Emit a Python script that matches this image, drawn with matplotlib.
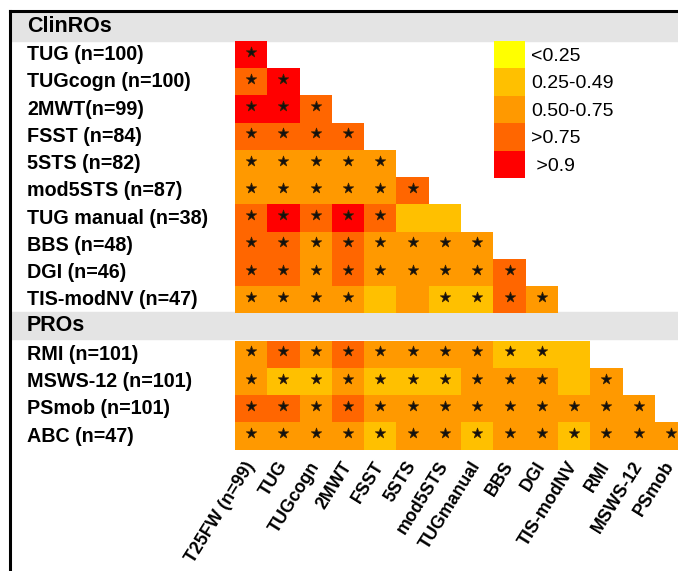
import numpy as np
import matplotlib
matplotlib.use("Agg")
from matplotlib import pyplot as plt
from matplotlib.colors import ListedColormap, BoundaryNorm
from matplotlib.patches import Patch

plt.rcParams["font.family"] = ["Liberation Sans", "DejaVu Sans"]

columns = ["T25FW (n=99)", "TUG", "TUGcogn", "2MWT", "FSST", "5STS", "mod5STS",
           "TUGmanual", "BBS", "DGI", "TIS-modNV", "RMI", "MSWS-12", "PSmob"]

clinro_labels = ["TUG (n=100)", "TUGcogn (n=100)", "2MWT(n=99)", "FSST (n=84)",
                 "5STS (n=82)", "mod5STS (n=87)", "TUG manual (n=38)", "BBS (n=48)",
                 "DGI (n=46)", "TIS-modNV (n=47)"]
pro_labels = ["RMI (n=101)", "MSWS-12 (n=101)", "PSmob (n=101)", "ABC (n=47)"]

# 1 = <0.25, 2 = 0.25-0.49, 3 = 0.50-0.75, 4 = >0.75, 5 = >0.9
clinro_levels = [
    [5],
    [4, 5],
    [5, 5, 4],
    [4, 4, 4, 4],
    [3, 3, 3, 3, 3],
    [3, 3, 3, 3, 3, 4],
    [4, 5, 4, 5, 4, 2, 2],
    [4, 4, 3, 4, 3, 3, 3, 3],
    [4, 4, 3, 4, 3, 3, 3, 3, 4],
    [3, 3, 3, 3, 2, 3, 2, 2, 4, 3],
]
clinro_sig = [
    [1],
    [1, 1],
    [1, 1, 1],
    [1, 1, 1, 1],
    [1, 1, 1, 1, 1],
    [1, 1, 1, 1, 1, 1],
    [1, 1, 1, 1, 1, 0, 0],
    [1, 1, 1, 1, 1, 1, 1, 1],
    [1, 1, 1, 1, 1, 1, 1, 1, 1],
    [1, 1, 1, 1, 0, 0, 1, 1, 1, 1],
]

pro_levels = [
    [3, 4, 3, 4, 3, 3, 3, 3, 2, 2, 2],
    [3, 2, 2, 3, 2, 2, 2, 3, 3, 3, 2, 3],
    [4, 4, 3, 4, 3, 3, 3, 3, 3, 3, 3, 3, 3],
    [3, 3, 3, 3, 2, 3, 3, 2, 3, 3, 2, 3, 3, 3],
]
pro_sig = [
    [1, 1, 1, 1, 1, 1, 1, 1, 1, 1, 0],
    [1, 1, 1, 1, 1, 1, 1, 1, 1, 1, 0, 1],
    [1, 1, 1, 1, 1, 1, 1, 1, 1, 1, 1, 1, 1],
    [1, 1, 1, 1, 1, 1, 1, 1, 1, 1, 1, 1, 1, 1],
]

legend_labels = ["<0.25", "0.25-0.49", "0.50-0.75", ">0.75", " >0.9"]
level_colors = ["#FFFF00", "#FFC000", "#FF9900", "#FF6600", "#FF0000"]

header_gray = "#E4E4E4"
col_w = 32.3   # px per column
row_h = 27.25  # px per row


def build_grid():
    # row 0 = ClinROs header, rows 1-10 ClinROs, row 11 = PROs header, rows 12-15 PROs
    rows = [None] + clinro_levels + [None] + pro_levels
    sigs = [None] + clinro_sig + [None] + pro_sig
    grid = np.full((len(rows), len(columns)), np.nan)
    star = np.zeros_like(grid, dtype=bool)
    for i, (r, s) in enumerate(zip(rows, sigs)):
        if r is None:
            continue
        grid[i, :len(r)] = r
        star[i, :len(s)] = np.array(s, dtype=bool)
    return grid, star


def main():
    grid, star = build_grid()
    n_rows, n_cols = grid.shape

    fig = plt.figure(figsize=(6.78, 5.71), dpi=100)
    ax = fig.add_axes([10 / 678, 0, 668 / 678, 560 / 571])

    ax.set_xlim(-225 / col_w, 443 / col_w)
    ax.set_ylim(559 / row_h, -1 / row_h)

    # header bands
    ax.axhspan(0, 1.06, color=header_gray, zorder=0)
    ax.axhspan(11, 12, color=header_gray, zorder=0)

    cmap = ListedColormap(level_colors)
    norm = BoundaryNorm(np.arange(0.5, 6.5, 1), cmap.N)
    ax.pcolormesh(np.arange(n_cols + 1), np.arange(n_rows + 1) + 0.06,
                  np.ma.masked_invalid(grid), cmap=cmap, norm=norm, zorder=1)

    yy, xx = np.nonzero(star)
    ax.scatter(xx + 0.5, yy + 0.45, marker="*", s=62, color="#111111",
               linewidths=0.5, edgecolors="#3a2000", zorder=2)

    label_x = -208 / col_w
    ax.text(label_x, 0.55, "ClinROs", fontsize=15.5, fontweight="bold",
            va="center", ha="left")
    ax.text(label_x, 11.5, "PROs", fontsize=15.5, fontweight="bold",
            va="center", ha="left")
    for i, lab in enumerate(clinro_labels):
        ax.text(label_x, i + 1.56, lab, fontsize=14.2, fontweight="bold",
                va="center", ha="left")
    for i, lab in enumerate(pro_labels):
        ax.text(label_x, i + 12.56, lab, fontsize=14.2, fontweight="bold",
                va="center", ha="left")

    for j, lab in enumerate(columns):
        ax.text(j + 0.5, n_rows + 0.55, lab, fontsize=12.8, fontweight="bold",
                rotation=58, rotation_mode="anchor", ha="right", va="center")

    ax.set_xticks([])
    ax.set_yticks([])
    for side in ["right", "bottom"]:
        ax.spines[side].set_visible(False)
    for side in ["left", "top"]:
        ax.spines[side].set_linewidth(2.2)

    handles = [Patch(facecolor=c, edgecolor="none") for c in level_colors]
    fig.legend(handles, legend_labels, loc="upper left",
               bbox_to_anchor=(494 / 678, 1 - 41 / 571), frameon=False,
               fontsize=14, handlelength=1.6, handleheight=1.79,
               handletextpad=0.3, labelspacing=0, borderpad=0,
               borderaxespad=0)

    fig.savefig("out.png", dpi=100)


if __name__ == "__main__":
    main()
